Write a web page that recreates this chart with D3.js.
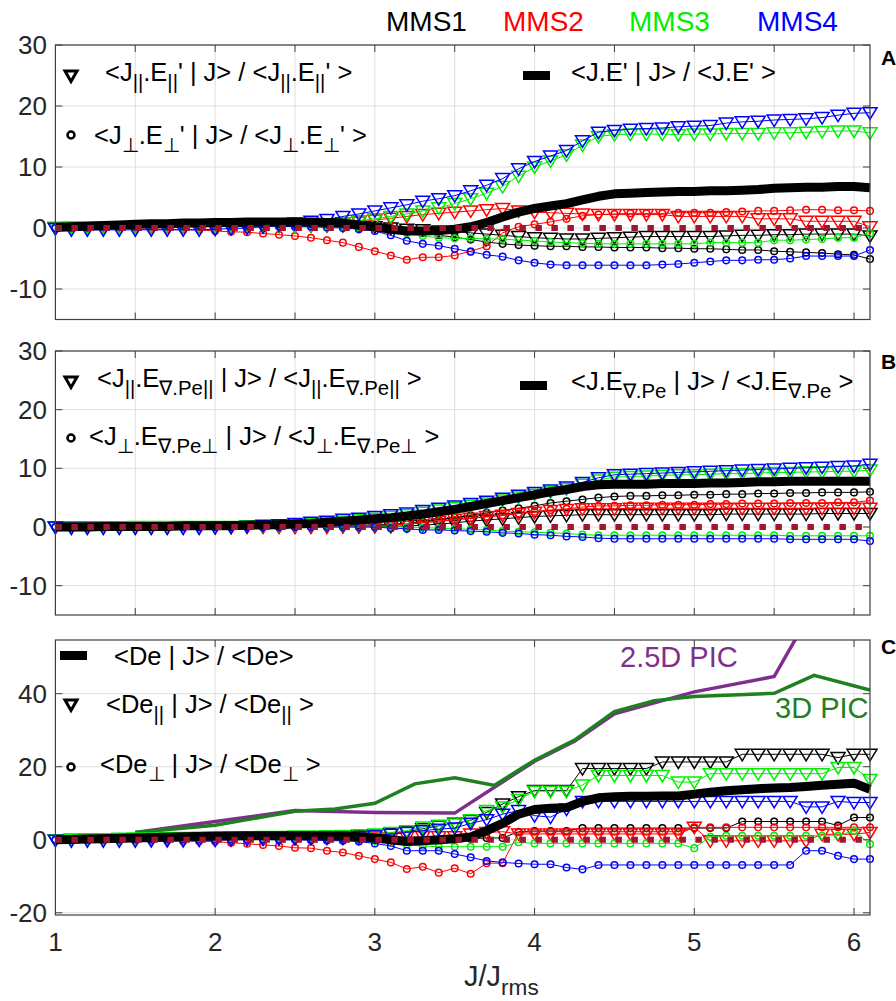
<!DOCTYPE html>
<html>
<head>
<meta charset="utf-8">
<script src="https://cdn.jsdelivr.net/npm/d3@7"></script>
<style>
  body { margin: 0; background: #fff; }
  text { font-family: "Liberation Sans", Arial, Helvetica, sans-serif; white-space: pre; }
</style>
</head>
<body>
<svg width="896" height="1001"></svg>
<script>

// J/Jrms sample points
var jx = [1.0,1.1,1.2,1.3,1.4,1.5,1.6,1.7,1.8,1.9,
          2.0,2.1,2.2,2.3,2.4,2.5,2.6,2.7,2.8,2.9,
          3.0,3.1,3.2,3.3,3.4,3.5,3.6,3.7,3.8,3.9,
          4.0,4.1,4.2,4.3,4.4,4.5,4.6,4.7,4.8,4.9,
          5.0,5.1,5.2,5.3,5.4,5.5,5.6,5.7,5.8,5.9,
          6.0,6.1];

var craft = ["MMS1", "MMS2", "MMS3", "MMS4"];

// ---- panel A : J.E'
var aTot = [0.1,0.2,0.3,0.4,0.5,0.6,0.7,0.7,0.8,0.8, 0.9,0.9,1.0,1.0,1.0,1.0,1.0,0.9,0.8,0.5,
            0.2,-0.2,-0.5,-0.5,-0.4,-0.2,0.2,0.9,1.8,2.6, 3.2,3.6,4.0,4.6,5.2,5.6,5.7,5.8,5.9,6.0,
            6.0,6.1,6.1,6.2,6.3,6.5,6.6,6.7,6.7,6.8, 6.8,6.6];
var aTri1 = [0.1,0.1,0.1,0.2,0.2,0.2,0.2,0.3,0.3,0.3, 0.3,0.3,0.4,0.4,0.4,0.4,0.4,0.4,0.4,0.3,
             0.2,0.0,-0.2,-0.3,-0.5,-0.6,-0.8,-1.0,-1.2,-1.4, -1.6,-1.7,-1.8,-1.8,-1.7,-1.6,-1.5,-1.4,-1.4,-1.4,
             -1.4,-1.4,-1.3,-1.2,-1.2,-1.1,-1.1,-1.0,-1.0,-1.0, -1.0,-1.3];
var aCirc1 = [0.1,0.2,0.2,0.3,0.3,0.4,0.4,0.5,0.5,0.5, 0.6,0.6,0.6,0.6,0.6,0.6,0.6,0.5,0.5,0.4,
              0.3,0.0,-0.5,-0.8,-1.2,-1.5,-1.9,-2.3,-2.6,-2.8, -2.9,-3.0,-3.0,-3.1,-3.1,-3.2,-3.2,-3.2,-3.3,-3.3,
              -3.4,-3.4,-3.5,-3.6,-3.6,-3.8,-3.9,-4.0,-4.1,-4.3, -4.4,-5.1];
var aTri2 = [0.0,0.1,0.1,0.1,0.2,0.2,0.2,0.2,0.2,0.3, 0.3,0.3,0.3,0.3,0.3,0.3,0.4,0.5,0.8,1.0,
             1.3,1.6,1.9,2.2,2.4,2.6,2.8,3.0,3.2,2.8, 2.6,2.5,2.4,2.3,2.2,2.2,2.2,2.2,2.2,1.9,
             1.9,1.9,1.9,1.9,1.5,1.5,1.5,1.1,1.1,1.1, 1.1,0.2];
var aCirc2 = [0.0,0.0,-0.1,-0.1,-0.1,-0.2,-0.2,-0.2,-0.3,-0.3, -0.5,-0.6,-0.7,-0.9,-1.1,-1.3,-1.6,-2.0,-2.4,-3.1,
              -3.8,-4.5,-5.2,-4.8,-4.8,-4.5,-3.8,-3.0,-0.8,0.2, 0.6,1.0,1.5,2.0,2.2,2.3,2.4,2.4,2.4,2.5,
              2.5,2.5,2.6,2.7,2.8,2.8,2.9,3.0,3.0,2.9, 2.9,2.8];
var aTri3 = [0.0,0.1,0.1,0.2,0.2,0.2,0.3,0.3,0.3,0.3, 0.3,0.3,0.3,0.3,0.3,0.3,0.4,0.5,0.8,1.2,
             1.5,1.9,2.3,2.8,3.3,4.0,4.8,5.7,6.8,8.5, 10.0,11.0,12.0,13.6,15.0,15.3,15.4,15.4,15.4,15.3,
             15.4,15.4,15.5,15.5,15.5,15.6,15.6,15.7,15.8,15.9, 15.9,15.6];
var aCirc3 = [0.1,0.1,0.2,0.2,0.2,0.3,0.3,0.3,0.3,0.3, 0.3,0.3,0.3,0.3,0.3,0.3,0.3,0.3,0.2,0.1,
              0.0,-0.3,-0.8,-1.3,-1.6,-1.7,-1.7,-1.8,-1.8,-2.0, -2.1,-2.3,-2.4,-2.5,-2.6,-2.6,-2.6,-2.6,-2.6,-2.6,
              -2.6,-2.4,-2.4,-2.4,-2.4,-2.0,-2.0,-1.9,-1.8,-1.6, -1.6,-0.9];
var aTri4 = [-0.1,-0.3,-0.3,-0.3,-0.3,-0.3,-0.3,-0.3,-0.3,-0.3, -0.2,-0.1,0.0,0.2,0.5,0.8,1.1,1.4,1.9,2.3,
             2.8,3.3,3.8,4.4,4.8,5.3,6.1,7.0,8.1,9.7, 10.9,11.8,12.7,14.3,15.7,16.0,16.2,16.3,16.4,16.6,
             16.7,16.8,17.2,17.4,17.5,17.7,17.8,17.9,18.1,18.5, 18.8,18.9];
var aCirc4 = [0.0,0.1,0.1,0.2,0.2,0.2,0.3,0.3,0.3,0.3, 0.3,0.3,0.3,0.3,0.3,0.2,0.2,0.1,0.0,-0.2,
              -0.5,-1.2,-2.1,-2.6,-2.9,-3.4,-3.9,-4.4,-4.7,-5.3, -5.7,-6.0,-6.1,-6.1,-6.1,-6.1,-6.1,-6.1,-6.0,-5.9,
              -5.7,-5.5,-5.3,-5.3,-5.2,-5.2,-5.0,-4.6,-4.6,-4.6, -4.6,-3.6];

// ---- panel B : J.E grad Pe
var bTot = [0.0,0.0,0.0,0.1,0.1,0.1,0.1,0.1,0.2,0.2, 0.2,0.2,0.3,0.35,0.4,0.5,0.6,0.8,1.0,1.2,
            1.4,1.6,1.9,2.2,2.6,3.0,3.5,4.0,4.5,5.0, 5.5,6.0,6.4,6.9,7.2,7.3,7.3,7.3,7.4,7.4,
            7.4,7.5,7.5,7.6,7.7,7.7,7.8,7.8,7.8,7.8, 7.8,7.8];
var bTri1 = [0,0,0,0,0,0,0,0,0,0, 0.0,0.0,0.1,0.1,0.1,0.1,0.1,0.1,0.1,0.1,
             0.1,0.1,0.2,0.3,0.5,0.7,1.0,1.2,1.4,1.6, 1.8,1.9,2.0,2.1,2.1,2.1,2.1,2.1,2.1,2.1,
             2.1,2.1,2.2,2.2,2.2,2.2,2.2,2.2,2.3,2.3, 2.3,2.3];
var bCirc1 = [0,0,0,0,0,0,0,0,0,0, 0.0,0.0,0.1,0.1,0.1,0.1,0.2,0.2,0.3,0.3,
              0.4,0.5,0.6,0.9,1.2,1.6,2.0,2.4,2.8,3.2, 3.6,4.1,4.4,4.7,5.0,5.2,5.3,5.3,5.4,5.4,
              5.5,5.5,5.6,5.6,5.7,5.7,5.8,5.8,5.9,5.9, 5.9,6.0];
var bTri2 = [0,0,0,0,0,0,0,0,0,0, 0,0,0,0,0,0,0,0,0.1,0.1,
             0.2,0.3,0.5,0.8,1.0,1.3,1.5,1.8,2.0,2.3, 2.5,2.8,3.0,3.1,3.1,3.1,3.2,3.2,3.2,3.2,
             3.2,3.2,3.2,3.2,3.2,3.2,3.2,3.2,3.2,3.2, 3.2,3.2];
var bCirc2 = [0,0,0,0,0,0,0,0,0,0, 0,0,0,0,0,0,0,0.1,0.1,0.1,
              0.2,0.3,0.5,0.7,1.0,1.2,1.5,1.7,2.0,2.3, 2.6,2.9,3.1,3.4,3.6,3.6,3.7,3.7,3.8,3.8,
              3.8,3.9,3.9,4.0,4.0,4.0,4.1,4.1,4.1,4.2, 4.2,4.5];
var bTri3 = [0.0,0.0,0.0,0.0,0.0,0.1,0.1,0.1,0.1,0.1, 0.1,0.1,0.2,0.2,0.3,0.4,0.6,0.8,1.0,1.3,
             1.5,1.8,2.1,2.5,2.9,3.3,3.7,4.1,4.6,5.1, 5.6,6.0,6.5,7.3,8.0,8.5,8.6,8.7,8.8,8.9,
             8.9,9.0,9.1,9.1,9.2,9.3,9.3,9.4,9.4,9.5, 9.5,9.7];
var bCirc3 = [0,0,0,0,0,0,0,0,0,0, 0,0,0,0,0,0,0,0,0,0,
              0.0,0.0,0.0,-0.1,-0.2,-0.3,-0.4,-0.5,-0.7,-0.8, -0.9,-1.0,-1.1,-1.3,-1.4,-1.4,-1.4,-1.4,-1.4,-1.4,
              -1.4,-1.4,-1.4,-1.4,-1.4,-1.4,-1.5,-1.5,-1.5,-1.5, -1.5,-1.5];
var bTri4 = [0.0,-0.2,-0.2,-0.2,-0.2,-0.2,-0.2,-0.2,-0.2,-0.2, -0.1,0.0,0.1,0.3,0.4,0.6,0.8,1.0,1.3,1.5,
             1.8,2.1,2.4,2.8,3.2,3.6,4.0,4.4,4.9,5.4, 5.9,6.3,6.8,7.6,8.4,8.9,9.0,9.1,9.2,9.3,
             9.4,9.5,9.6,9.7,9.8,9.9,10.0,10.1,10.2,10.3, 10.4,10.7];
var bCirc4 = [0,0,0,0,0,0,0,0,0,0, 0,0,0,0,0,0,0,0,0,0,
              0.0,-0.2,-0.3,-0.5,-0.5,-0.6,-0.7,-0.8,-1.0,-1.1, -1.3,-1.4,-1.6,-1.7,-1.9,-2.0,-2.0,-2.0,-2.0,-2.0,
              -2.0,-2.0,-2.0,-2.0,-2.0,-2.0,-2.1,-2.1,-2.1,-2.1, -2.1,-2.4];

// ---- panel C : De
var cTot = [0.0,0.1,0.2,0.3,0.4,0.5,0.6,0.7,0.8,0.9, 1.0,1.0,1.1,1.1,1.1,1.1,1.1,1.0,1.0,0.8,
            0.5,0.0,-0.5,-0.3,0.0,0.3,0.8,2.5,4.5,7.0, 8.3,8.6,8.8,10.5,11.5,11.8,11.9,11.9,12.0,12.0,
            12.5,13.0,13.4,13.7,14.0,14.2,14.3,14.6,14.9,15.2, 15.5,13.8];
var cTri1 = [0.0,0.1,0.1,0.2,0.2,0.3,0.3,0.4,0.4,0.5, 0.5,0.6,0.6,0.7,0.7,0.8,0.8,0.9,1.0,1.1,
             1.3,1.7,2.2,3.0,3.8,4.5,5.3,7.5,9.8,11.8, 13.5,13.5,13.5,19.5,19.5,19.5,19.5,19.5,21.3,21.3,
             21.3,21.3,21.3,23.4,23.4,23.4,23.4,23.4,23.4,22.5, 23.4,23.4];
var cCirc1 = [0.0,0.1,0.1,0.2,0.2,0.3,0.3,0.3,0.4,0.4, 0.4,0.4,0.4,0.4,0.4,0.4,0.4,0.4,0.3,0.3,
              0.2,0.0,-0.3,-0.2,0.0,0.2,0.3,0.5,0.5,2.2, 2.4,2.4,2.4,3.2,3.2,3.2,3.2,3.2,3.2,3.2,
              3.2,3.2,3.2,5.0,5.0,5.0,5.0,5.0,5.0,3.9, 6.1,6.1];
var cTri2 = [0.0,0.1,0.1,0.2,0.2,0.3,0.3,0.3,0.4,0.4, 0.4,0.4,0.4,0.4,0.4,0.4,0.4,0.4,0.4,0.5,
             0.5,0.5,0.8,0.8,0.8,0.8,1.6,2.0,2.2,1.6, 1.6,1.6,1.6,1.6,1.6,1.6,1.6,1.6,1.6,1.6,
             3.4,-0.3,-0.3,-0.3,-0.3,-0.3,-0.3,-0.3,1.5,1.5, 1.5,2.0];
var cCirc2 = [0.0,0.0,-0.1,-0.1,-0.2,-0.2,-0.3,-0.3,-0.4,-0.4, -0.5,-0.8,-1.1,-1.4,-1.7,-2.2,-2.3,-3.0,-3.5,-4.4,
              -5.3,-6.2,-8.0,-7.4,-9.0,-7.8,-9.3,-6.4,-6.4,2.0, 2.2,2.2,2.2,2.2,2.2,2.2,2.2,2.2,2.2,2.2,
              3.4,3.4,3.4,3.4,3.4,3.4,3.4,3.4,3.4,3.4, 3.4,3.4];
var cTri3 = [0.0,0.1,0.2,0.3,0.4,0.5,0.5,0.6,0.6,0.7, 0.7,0.8,0.8,0.9,0.9,1.0,1.0,1.1,1.2,1.4,
             1.6,2.0,2.5,3.5,4.0,4.3,5.5,8.0,9.0,11.0, 13.3,13.3,13.3,15.0,17.6,17.6,17.6,17.6,17.6,15.8,
             15.8,18.1,18.1,18.1,18.1,18.1,18.1,18.1,18.1,19.8, 19.8,16.5];
var cCirc3 = [0.0,0.1,0.1,0.2,0.2,0.2,0.3,0.3,0.3,0.3, 0.3,0.3,0.3,0.3,0.3,0.3,0.2,0.2,0.1,0.0,
              -0.3,-0.8,-1.3,-1.7,-1.9,-1.9,-1.9,-1.9,-1.9,-0.7, -1.0,-1.0,-1.0,-1.0,-1.0,-1.0,-1.0,-1.0,-1.0,-1.0,
              -2.3,0.8,1.1,1.1,1.1,1.1,1.1,1.1,1.1,1.1, 2.5,-1.2];
var cTri4 = [-0.1,-0.3,-0.3,-0.3,-0.3,-0.3,-0.2,-0.2,-0.2,-0.1, -0.1,0.0,0.1,0.2,0.3,0.4,0.5,0.6,0.7,0.8,
             1.0,1.5,2.0,2.5,2.9,3.2,4.5,5.5,7.0,8.0, 6.6,6.2,8.4,10.5,10.5,10.5,10.5,10.5,10.5,10.5,
             10.5,10.5,10.5,10.5,10.5,10.5,10.5,9.0,9.0,10.5, 10.2,10.2];
var cCirc4 = [0.0,0.0,0.1,0.1,0.1,0.1,0.1,0.1,0.1,0.1, 0.1,0.1,0.1,0.1,0.0,0.0,-0.1,-0.2,-0.3,-0.5,
              -1.0,-1.7,-3.0,-3.0,-3.0,-3.9,-4.8,-5.8,-6.2,-6.5, -6.7,-6.7,-7.6,-8.1,-6.9,-6.9,-6.9,-6.9,-6.9,-6.9,
              -6.9,-6.9,-6.9,-6.9,-6.9,-6.9,-6.9,-3.0,-3.0,-4.4, -5.3,-5.3];

// PIC simulation curves (panel C)
var pic25x = [1.5, 2.0, 2.5, 3.0, 3.5, 4.0, 4.25, 4.5, 4.75, 5.0, 5.5, 6.0];
var pic25y = [2.0, 5.0, 8.0, 7.5, 7.3, 21.5, 27.0, 34.5, 37.5, 40.5, 44.7, 83.0];
var pic3x = [1.5, 2.0, 2.5, 2.75, 3.0, 3.25, 3.5, 3.75, 4.0, 4.25, 4.5, 4.75, 5.0, 5.5, 5.75, 6.1];
var pic3y = [2.0, 4.0, 7.8, 8.4, 10.0, 15.3, 17.0, 14.9, 21.8, 27.3, 35.1, 38.1, 39.2, 40.1, 45.0, 41.0];

// ticks / grid
var yTicksAB = [-10, 0, 10, 20, 30];
var yTicksC = [-20, 0, 20, 40];
var xGridAB = [1.5, 2, 2.5, 3, 3.5, 4, 4.5, 5, 5.5, 6];
var xGridC = [2, 3, 4, 5, 6];
var xTickLabels = [1, 2, 3, 4, 5, 6];

var colors = ["#000000", "#ff0000", "#00ee00", "#0000ff"];
var maroon = "#a2142f";
var purple = "#7e2f8e";
var darkGreen = "#1f801f";
var axisCol = "#404040";
var gridCol = "#dedede";
var legendSize = 25.5;

var svg = d3.select("svg");
var x = d3.scaleLinear().domain([1, 6.1]).range([55.4, 870]);
var left = x(1), right = x(6.1);

var triPath = "M-7,-5L7,-5L0,6.5Z";

function richText(g, x0, y0, parts, size, color, subScale)
{
  var t = g.append("text").attr("x", x0).attr("y", y0)
    .attr("font-size", size).attr("fill", color || "#000");
  var down = false;
  parts.forEach(function(p) {
    var s = t.append("tspan").text(p[0]);
    if (p[1]) {
      s.attr("font-size", size * (subScale || 0.8));
      if (!down) { s.attr("dy", size * 0.32); down = true; }
    } else if (down) {
      s.attr("dy", -size * 0.32); down = false;
    }
  });
  return t;
}

function drawPanel(p)
{
  var y = d3.scaleLinear().domain(p.domain).range([p.bottom, p.top]);
  var g = svg.append("g");

  g.append("clipPath").attr("id", "clip" + p.key)
    .append("rect").attr("x", left).attr("y", p.top)
    .attr("width", right - left).attr("height", p.bottom - p.top);

  // grid
  g.selectAll(".gx").data(p.xgrid).enter().append("line")
    .attr("x1", function(d) { return x(d); }).attr("x2", function(d) { return x(d); })
    .attr("y1", p.top).attr("y2", p.bottom)
    .attr("stroke", gridCol).attr("stroke-width", 1);
  g.selectAll(".gy").data(p.yticks).enter().append("line")
    .attr("x1", left).attr("x2", right)
    .attr("y1", function(d) { return y(d); }).attr("y2", function(d) { return y(d); })
    .attr("stroke", gridCol).attr("stroke-width", 1);

  var line = d3.line()
    .x(function(d, i) { return x(jx[i]); })
    .y(function(d) { return y(d); });

  // PIC curves
  if (p.pic) {
    var cg = g.append("g").attr("clip-path", "url(#clip" + p.key + ")");
    var picLine = d3.line()
      .x(function(d) { return x(d[0]); })
      .y(function(d) { return y(d[1]); });
    cg.append("path").datum(d3.zip(pic25x, pic25y)).attr("d", picLine)
      .attr("fill", "none").attr("stroke", purple).attr("stroke-width", 3.5);
    cg.append("path").datum(d3.zip(pic3x, pic3y)).attr("d", picLine)
      .attr("fill", "none").attr("stroke", darkGreen).attr("stroke-width", 3.5);
  }

  // spacecraft series
  for (var k = 0; k < 4; k++) {
    var col = colors[k];
    var tri = p.tri[k], circ = p.circ[k];

    g.append("path").datum(tri).attr("d", line)
      .attr("fill", "none").attr("stroke", col).attr("stroke-width", 1);
    g.selectAll(".t" + k).data(tri).enter().append("path")
      .attr("d", triPath)
      .attr("transform", function(d, i) { return "translate(" + x(jx[i]) + "," + y(d) + ")"; })
      .attr("fill", "none").attr("stroke", col).attr("stroke-width", 1.5);

    g.append("path").datum(circ).attr("d", line)
      .attr("fill", "none").attr("stroke", col).attr("stroke-width", 1);
    g.selectAll(".c" + k).data(circ).enter().append("circle")
      .attr("cx", function(d, i) { return x(jx[i]); })
      .attr("cy", function(d) { return y(d); })
      .attr("r", 3.3)
      .attr("fill", "none").attr("stroke", col).attr("stroke-width", 1.5);
  }

  // total
  g.append("path").datum(p.tot).attr("d", line)
    .attr("fill", "none").attr("stroke", "#000").attr("stroke-width", 9)
    .attr("stroke-linejoin", "round");

  // zero reference, thick dotted
  g.append("line")
    .attr("x1", x(1)).attr("x2", x(6.1)).attr("y1", y(0)).attr("y2", y(0))
    .attr("stroke", maroon).attr("stroke-width", 6).attr("stroke-dasharray", "6.5,9.5");

  // box and ticks
  g.append("rect").attr("x", left).attr("y", p.top)
    .attr("width", right - left).attr("height", p.bottom - p.top)
    .attr("fill", "none").attr("stroke", axisCol).attr("stroke-width", 1.2);

  p.yticks.forEach(function(d) {
    g.append("line").attr("x1", left).attr("x2", left + 7).attr("y1", y(d)).attr("y2", y(d))
      .attr("stroke", axisCol);
    g.append("line").attr("x1", right).attr("x2", right - 7).attr("y1", y(d)).attr("y2", y(d))
      .attr("stroke", axisCol);
    g.append("text").attr("x", 47).attr("y", y(d) + 9)
      .attr("text-anchor", "end").attr("font-size", 26).attr("fill", "#262626")
      .text(d);
  });
  p.xgrid.forEach(function(d) {
    g.append("line").attr("x1", x(d)).attr("x2", x(d)).attr("y1", p.bottom).attr("y2", p.bottom - 7)
      .attr("stroke", axisCol);
    g.append("line").attr("x1", x(d)).attr("x2", x(d)).attr("y1", p.top).attr("y2", p.top + 7)
      .attr("stroke", axisCol);
  });

  // panel letter
  g.append("text").attr("x", 881).attr("y", p.letterY)
    .attr("font-size", 21).attr("font-weight", "bold").text(p.key);

  // legend
  var L = p.legend;
  g.append("path").attr("d", "M-6,-5L6,-5L0,5.5Z")
    .attr("transform", "translate(" + L.tri[0] + "," + L.tri[1] + ")")
    .attr("fill", "#fff").attr("stroke", "#000").attr("stroke-width", 3);
  g.append("circle").attr("cx", L.circ[0]).attr("cy", L.circ[1]).attr("r", 3.5)
    .attr("fill", "#fff").attr("stroke", "#000").attr("stroke-width", 2.5);
  g.append("rect").attr("x", L.bar[0]).attr("y", L.bar[1]).attr("width", 27).attr("height", 9)
    .attr("fill", "#000");
  richText(g, L.triText[0], L.triText[1], L.triParts, legendSize);
  richText(g, L.circText[0], L.circText[1], L.circParts, legendSize);
  richText(g, L.barText[0], L.barText[1], L.barParts, legendSize);
}

var panels = [
  { key: "A", top: 45, bottom: 319.5, domain: [-15, 30], yticks: yTicksAB, xgrid: xGridAB, letterY: 65,
    tri: [aTri1, aTri2, aTri3, aTri4], circ: [aCirc1, aCirc2, aCirc3, aCirc4], tot: aTot,
    legend: { tri: [71, 76], circ: [71, 135], bar: [523, 71],
      triText: [105, 81], circText: [94, 144], barText: [571, 81],
      triParts: [["<J",0],["||",1],[".E",0],["||",1],["' | J> / <J",0],["||",1],[".E",0],["||",1],["' >",0]],
      circParts: [["<J",0],["\u22a5",1],[".E",0],["\u22a5",1],["' | J> / <J",0],["\u22a5",1],[".E",0],["\u22a5",1],["' >",0]],
      barParts: [["<J.E' | J> / <J.E' >",0]] } },
  { key: "B", top: 351, bottom: 615, domain: [-15, 30], yticks: yTicksAB, xgrid: xGridAB, letterY: 369,
    tri: [bTri1, bTri2, bTri3, bTri4], circ: [bCirc1, bCirc2, bCirc3, bCirc4], tot: bTot,
    legend: { tri: [71, 382], circ: [71, 438], bar: [520, 381],
      triText: [97, 387], circText: [89, 445], barText: [571, 390],
      triParts: [["<J",0],["||",1],[".E",0],["\u2207.Pe||",1],[" | J> / <J",0],["||",1],[".E",0],["\u2207.Pe||",1],[" >",0]],
      circParts: [["<J",0],["\u22a5",1],[".E",0],["\u2207.Pe\u22a5",1],[" | J> / <J",0],["\u22a5",1],[".E",0],["\u2207.Pe\u22a5",1],[" >",0]],
      barParts: [["<J.E",0],["\u2207.Pe",1],[" | J> / <J.E",0],["\u2207.Pe",1],[" >",0]] } },
  { key: "C", top: 640, bottom: 915, domain: [-20.6, 54.7], yticks: yTicksC, xgrid: xGridC, letterY: 654, pic: true,
    tri: [cTri1, cTri2, cTri3, cTri4], circ: [cCirc1, cCirc2, cCirc3, cCirc4], tot: cTot,
    legend: { tri: [71, 705], circ: [71, 767], bar: [60, 651],
      triText: [106, 713], circText: [100, 773], barText: [114, 665],
      triParts: [["<De",0],["||",1],[" | J> / <De",0],["||",1],[" >",0]],
      circParts: [["<De",0],["\u22a5",1],[" | J> / <De",0],["\u22a5",1],[" >",0]],
      barParts: [["<De | J> / <De>",0]] } }
];

panels.forEach(drawPanel);

// x tick labels on the bottom panel
svg.selectAll(".xl").data(xTickLabels).enter().append("text")
  .attr("x", function(d) { return x(d); }).attr("y", 951)
  .attr("text-anchor", "middle").attr("font-size", 26).attr("fill", "#262626")
  .text(function(d) { return d; });

richText(svg, 464, 986, [["J/J",0],["rms",1]], 29, "#262626", 0.78);

// PIC labels
svg.append("text").attr("x", 620).attr("y", 667).attr("font-size", 29).attr("fill", purple).text("2.5D PIC");
svg.append("text").attr("x", 775).attr("y", 718).attr("font-size", 29).attr("fill", darkGreen).text("3D PIC");

// spacecraft labels
var titleX = [386, 503, 629, 757];
svg.selectAll(".mms").data(craft).enter().append("text")
  .attr("x", function(d, i) { return titleX[i]; }).attr("y", 31)
  .attr("font-size", 28).attr("fill", function(d, i) { return colors[i]; })
  .text(function(d) { return d; });

</script>
</body>
</html>
